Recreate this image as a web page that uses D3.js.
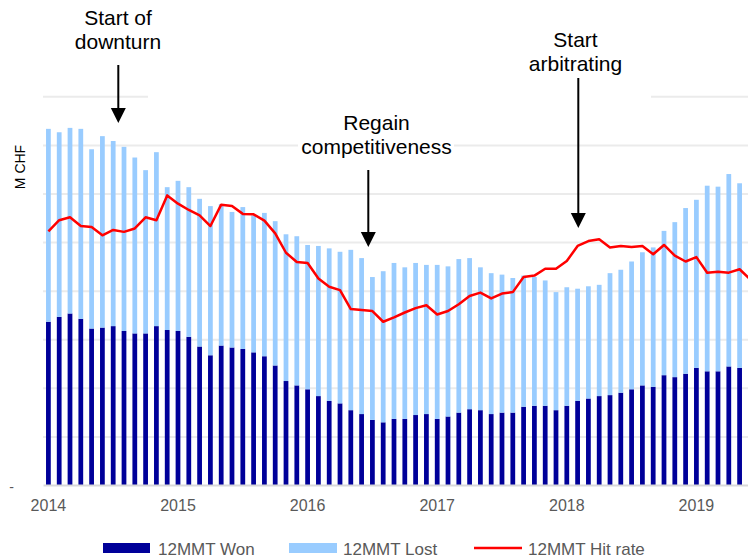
<!DOCTYPE html>
<html>
<head>
<meta charset="utf-8">
<script src="https://cdnjs.cloudflare.com/ajax/libs/d3/7.8.5/d3.min.js"></script>
<style>
body { margin: 0; background: #fff; }
</style>
</head>
<body>
<div class="container"></div>
<script>
// 12 month moving totals, M CHF
var won = [3.36,3.46,3.53,3.42,3.22,3.24,3.27,3.17,3.12,3.12,
    3.27,3.19,3.17,3.05,2.85,2.67,2.87,2.83,2.80,2.73,
    2.65,2.46,2.14,2.05,1.97,1.83,1.73,1.68,1.54,1.46,
    1.34,1.29,1.36,1.36,1.44,1.46,1.36,1.41,1.49,1.56,
    1.54,1.46,1.49,1.49,1.61,1.63,1.63,1.54,1.63,1.73,
    1.78,1.83,1.85,1.90,1.97,2.05,2.02,2.26,2.22,2.29,
    2.41,2.34,2.34,2.44,2.41];
var lost = [3.97,3.80,3.82,3.91,3.69,3.94,3.81,3.79,3.62,3.36,
    3.58,2.94,3.09,3.08,3.04,3.07,2.91,2.79,2.92,2.82,
    2.95,2.97,3.02,3.07,2.97,3.09,3.14,3.12,3.30,3.21,
    2.94,3.11,3.21,3.12,3.13,3.07,3.17,3.09,3.16,3.11,
    2.94,2.90,2.84,2.77,2.70,2.65,2.58,2.43,2.44,2.31,
    2.31,2.29,2.51,2.53,2.63,2.74,2.87,2.97,3.19,3.41,
    3.46,3.82,3.80,3.96,3.80];
// hit rate in %, one more month than the bars (runs off the right edge)
var hitRate = [52.2,54.5,55.1,53.3,53.1,51.4,52.5,52.1,52.8,55.1,
    54.5,59.6,57.9,56.6,55.5,53.3,57.7,57.4,55.8,55.7,
    54.4,51.8,47.8,45.9,45.7,42.5,40.8,40.1,36.2,36.0,
    35.8,33.6,34.5,35.5,36.4,37.0,35.1,35.8,37.2,38.9,
    39.6,38.4,39.4,39.7,42.8,43.1,44.5,44.5,46.1,49.2,
    50.2,50.6,48.9,49.2,49.0,49.2,47.5,49.4,47.2,46.0,
    46.9,43.7,43.9,43.7,44.4,42.3];
var yearLabels = ["2014","2015","2016","2017","2018","2019"];
var seriesNames = ["12MMT Won","12MMT Lost","12MMT Hit rate"];
var noteTexts = [["Start of","downturn"],["Regain","competitiveness"],["Start","arbitrating"]];

var months = d3.timeMonth.range(new Date(2014,0,1), new Date(2019,6,1));
var w = 748;
var h = 558;

var svg = d3.select(".container")
    .append("svg")
    .attr("width", w)
    .attr("height", h)
    .style("font-family", "'Liberation Sans', Arial, sans-serif");

var x = d3.scaleBand()
    .domain(months)
    .range([43, 755.8])
    .paddingInner(0.56)
    .paddingOuter(0.28);

var y = d3.scaleLinear()
    .domain([0, 8])
    .range([485, 96.3]);

var y2 = d3.scaleLinear()
    .domain([0, 80])
    .range([485, 96.3]);

// gridlines
var grid = svg.append("g")
    .attr("transform", "translate(43,0)")
    .call(d3.axisLeft(y).tickValues([1,2,3,4,5,6,7,8]).tickSize(-710).tickFormat(""));
grid.select(".domain").remove();
grid.selectAll("line").attr("stroke", "#ebebeb").attr("stroke-width", 2);

// white boxes behind the annotation texts
svg.append("rect").attr("x", 148).attr("y", 90).attr("width", 503).attr("height", 12).attr("fill", "#fff");
svg.append("rect").attr("x", 298).attr("y", 112).attr("width", 156).attr("height", 48).attr("fill", "#fff");

svg.selectAll(".won")
    .data(won)
    .enter()
    .append("rect")
    .attr("class", "won")
    .attr("x", function(d, i) { return x(months[i]); })
    .attr("y", function(d) { return y(d); })
    .attr("width", x.bandwidth())
    .attr("height", function(d) { return y(0) - y(d); })
    .attr("fill", "#000099");

svg.selectAll(".lost")
    .data(lost)
    .enter()
    .append("rect")
    .attr("class", "lost")
    .attr("x", function(d, i) { return x(months[i]); })
    .attr("y", function(d, i) { return y(won[i] + d); })
    .attr("width", x.bandwidth())
    .attr("height", function(d, i) { return y(won[i]) - y(won[i] + d); })
    .attr("fill", "#99ccff");

// x axis
var xAxis = svg.append("g")
    .attr("transform", "translate(0,485)")
    .call(d3.axisBottom(x)
        .tickValues(months.filter(function(m) { return m.getMonth() === 0; }))
        .tickFormat(function(m, i) { return yearLabels[i]; })
        .tickSize(0)
        .tickPadding(15));
xAxis.select(".domain").attr("stroke", "#d9d9d9").attr("stroke-width", 2);
xAxis.selectAll("text")
    .attr("fill", "#595959")
    .attr("font-size", "16px")
    .attr("font-family", "'Liberation Sans', Arial, sans-serif");

var line = d3.line()
    .x(function(d, i) { return x(months[i]) + x.bandwidth() / 2; })
    .y(function(d) { return y2(d); });

svg.append("path")
    .datum(hitRate)
    .attr("d", line)
    .attr("fill", "none")
    .attr("stroke", "#ff0000")
    .attr("stroke-width", 2.5)
    .attr("stroke-linejoin", "round");

// y axis bits
svg.append("text")
    .text("M CHF")
    .attr("transform", "translate(25,167)rotate(-90)")
    .attr("text-anchor", "middle")
    .attr("font-size", "14px")
    .attr("fill", "#000");
svg.append("text")
    .text("-")
    .attr("x", 14)
    .attr("y", 492)
    .attr("text-anchor", "end")
    .attr("font-size", "14px")
    .attr("fill", "#595959");

// annotations
var notes = [
    {lines: noteTexts[0], tx: 118, ty: 25, ax: 118.3, a0: 65, a1: 123},
    {lines: noteTexts[1], tx: 376.5, ty: 130, ax: 368.3, a0: 170, a1: 247},
    {lines: noteTexts[2], tx: 575.5, ty: 46.5, ax: 578.3, a0: 78, a1: 228}
];
notes.forEach(function(n) {
    n.lines.forEach(function(t, j) {
        svg.append("text")
            .text(t)
            .attr("x", n.tx)
            .attr("y", n.ty + j * 24)
            .attr("text-anchor", "middle")
            .attr("font-size", "21px")
            .attr("fill", "#000");
    });
    svg.append("line")
        .attr("x1", n.ax).attr("x2", n.ax)
        .attr("y1", n.a0).attr("y2", n.a1 - 12)
        .attr("stroke", "#000")
        .attr("stroke-width", 2);
    svg.append("path")
        .attr("d", "M" + (n.ax - 7.5) + "," + (n.a1 - 15) + "L" + (n.ax + 7.5) + "," + (n.a1 - 15) + "L" + n.ax + "," + n.a1 + "Z")
        .attr("fill", "#000");
});

// legend
var legend = svg.append("g").attr("font-size", "17px").attr("fill", "#595959");
legend.append("rect").attr("x", 103).attr("y", 543).attr("width", 47).attr("height", 10).attr("fill", "#000099");
legend.append("text").text(seriesNames[0]).attr("x", 158).attr("y", 555);
legend.append("rect").attr("x", 289).attr("y", 543).attr("width", 48).attr("height", 10).attr("fill", "#99ccff");
legend.append("text").text(seriesNames[1]).attr("x", 343).attr("y", 555);
legend.append("line").attr("x1", 474).attr("x2", 522).attr("y1", 548).attr("y2", 548)
    .attr("stroke", "#ff0000").attr("stroke-width", 2.5);
legend.append("text").text(seriesNames[2]).attr("x", 528).attr("y", 555);
</script>
</body>
</html>
